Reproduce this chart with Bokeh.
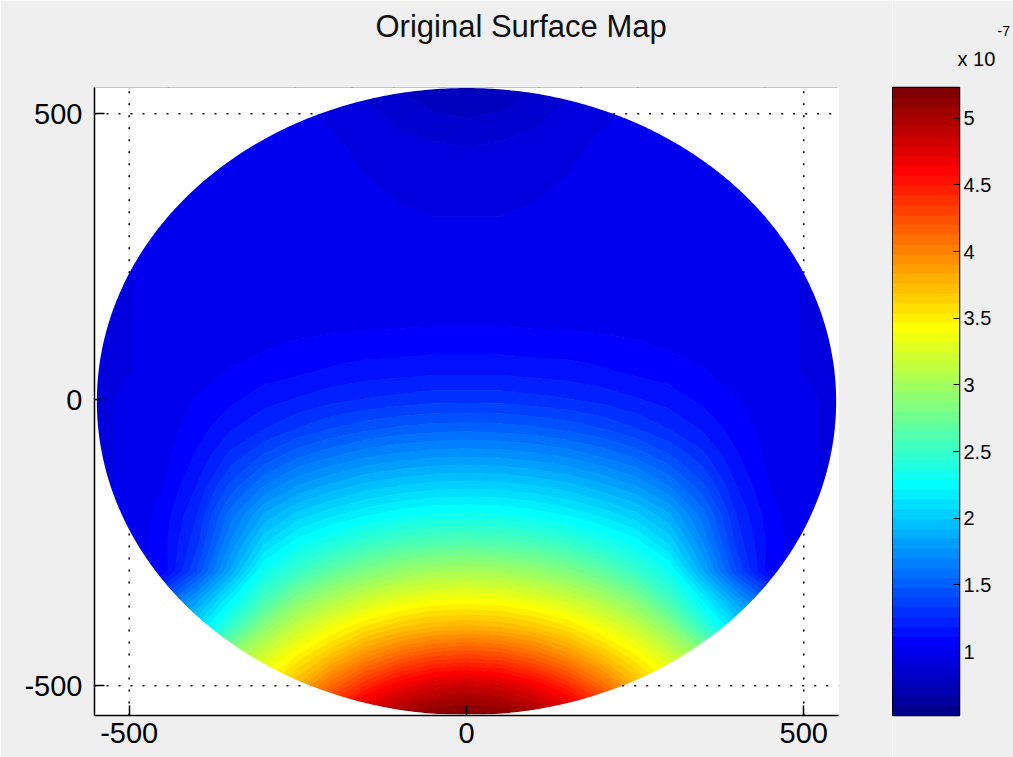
import numpy as np
from bokeh.plotting import figure
from bokeh.layouts import row
from bokeh.models import (FixedTicker, LinearColorMapper, Range1d, Title,
                          CustomJSTickFormatter)
from bokeh.embed import file_html
from bokeh.resources import INLINE

# ---------------- data (surface values in units of 1e-7) ----------------
title_text = "Original Surface Map"
cbar_exponent_text = "x 10"
cbar_power_text = "-7"
# x positions of the sampled columns on the right half (map is mirror-symmetric in x)
x_half = [0, 50, 100, 150, 200, 250, 300, 350, 400, 450, 500, 550]
y_rows = [550, 500, 450, 400, 350, 300, 250, 200, 150, 100, 50, 0,
          -50, -100, -150, -200, -250, -300, -350, -400, -450, -500, -550]
# one row per y (top to bottom), one value per |x| in x_half
surface_half = [
    [0.72, 0.74, 0.80, 0.86, 0.92, 0.96, 0.97, 0.97, 0.97, 0.96, 0.95, 0.95],
    [0.80, 0.82, 0.86, 0.91, 0.95, 0.97, 0.98, 0.98, 0.97, 0.96, 0.95, 0.95],
    [0.88, 0.89, 0.91, 0.94, 0.97, 0.98, 0.98, 0.98, 0.98, 0.97, 0.95, 0.95],
    [0.93, 0.93, 0.94, 0.96, 0.98, 0.98, 0.98, 0.98, 0.98, 0.97, 0.96, 0.95],
    [0.95, 0.95, 0.96, 0.97, 0.98, 0.98, 0.98, 0.98, 0.98, 0.97, 0.96, 0.95],
    [0.97, 0.97, 0.97, 0.98, 0.98, 0.98, 0.98, 0.98, 0.98, 0.98, 0.96, 0.95],
    [0.98, 0.98, 0.98, 0.98, 0.98, 0.98, 0.98, 0.98, 0.98, 0.98, 0.96, 0.95],
    [0.98, 0.98, 0.98, 0.98, 0.98, 0.98, 0.98, 0.98, 0.98, 0.97, 0.96, 0.95],
    [1.01, 1.01, 1.01, 1.00, 1.00, 0.99, 0.99, 0.98, 0.97, 0.97, 0.96, 0.95],
    [1.07, 1.07, 1.06, 1.06, 1.05, 1.04, 1.02, 1.00, 0.98, 0.97, 0.96, 0.95],
    [1.16, 1.16, 1.15, 1.14, 1.12, 1.09, 1.07, 1.04, 0.99, 0.97, 0.96, 0.95],
    [1.30, 1.30, 1.28, 1.26, 1.23, 1.19, 1.15, 1.09, 1.04, 0.99, 0.97, 0.95],
    [1.52, 1.51, 1.49, 1.45, 1.40, 1.33, 1.25, 1.17, 1.07, 1.00, 0.97, 0.95],
    [1.77, 1.76, 1.73, 1.69, 1.62, 1.54, 1.42, 1.28, 1.12, 1.01, 0.97, 0.95],
    [2.03, 2.02, 1.99, 1.94, 1.86, 1.77, 1.62, 1.42, 1.18, 1.03, 0.97, 0.95],
    [2.30, 2.29, 2.25, 2.19, 2.11, 2.01, 1.85, 1.58, 1.25, 1.06, 0.98, 0.95],
    [2.62, 2.60, 2.56, 2.48, 2.37, 2.25, 2.05, 1.70, 1.30, 1.08, 0.98, 0.95],
    [3.02, 3.00, 2.93, 2.83, 2.68, 2.50, 2.30, 1.85, 1.40, 1.05, 0.98, 0.95],
    [3.40, 3.38, 3.31, 3.20, 3.05, 2.85, 2.55, 2.20, 1.80, 1.45, 1.28, 1.20],
    [3.80, 3.77, 3.69, 3.56, 3.38, 3.18, 2.90, 2.50, 2.10, 1.80, 1.62, 1.50],
    [4.32, 4.28, 4.15, 3.96, 3.72, 3.48, 3.23, 2.95, 2.64, 2.37, 2.13, 1.91],
    [4.85, 4.80, 4.65, 4.42, 4.12, 3.78, 3.49, 3.19, 2.86, 2.54, 2.27, 2.03],
    [5.20, 5.16, 5.04, 4.86, 4.52, 4.12, 3.73, 3.40, 3.06, 2.70, 2.39, 2.13],
]
cbar_low, cbar_high = 0.52, 5.23
axis_ticks = [-500, 0, 500]
grid_ticks = [-500, 500]
cbar_ticks = [1, 1.5, 2, 2.5, 3, 3.5, 4, 4.5, 5]
aperture_radius = 548
aperture_center = (0, -3)


# ---------------- MATLAB jet(64) colormap ----------------
def jet(m=64):
    n = int(np.ceil(m / 4))
    u = np.concatenate([np.arange(1, n + 1) / n, np.ones(n - 1), np.arange(n, 0, -1) / n])
    g = int(np.ceil(n / 2)) - (1 if m % 4 == 1 else 0) + np.arange(1, len(u) + 1)
    r = g + n
    b = g - n
    R = np.zeros(m); G = np.zeros(m); B = np.zeros(m)
    for arr, idx in ((R, r), (G, g), (B, b)):
        ok = (idx >= 1) & (idx <= m)
        arr[idx[ok] - 1] = u[ok]
    return ["#%02x%02x%02x" % (int(round(a * 255)), int(round(c * 255)), int(round(d * 255)))
            for a, c, d in zip(R, G, B)]


jet64 = jet(64)
BG = "#efefef"
FONT = "Liberation Sans"

# full symmetric grid (left half mirrored from the right half)
half = np.array(surface_half, dtype=float)
Z_full = np.hstack([half[:, :0:-1], half])
X_full = np.concatenate([-np.array(x_half[:0:-1], dtype=float), np.array(x_half, dtype=float)])
Y_full = np.array(y_rows, dtype=float)
order = np.argsort(Y_full)
Z = Z_full[order]
Yc = Y_full[order]

# ---------------- main surface figure ----------------
p = figure(frame_width=744, frame_height=628,
           x_range=Range1d(-551.5, 551.5), y_range=Range1d(-552, 546),
           min_border_left=94, min_border_right=54, min_border_top=87, min_border_bottom=42,
           output_backend="svg", toolbar_location=None)
p.background_fill_color = "white"
p.border_fill_color = BG
p.outline_line_color = None
p.grid.visible = False

levels = np.linspace(cbar_low, cbar_high, 65)
line_cols = [jet64[min(k, 63)] for k in range(len(levels))]
cr = p.contour(x=X_full, y=Yc, z=Z, levels=levels, fill_color=jet64,
               line_color=line_cols, line_width=1.3)

# white mask outside the circular aperture
cx, cy = aperture_center
theta = np.linspace(0, 2 * np.pi, 721)
hole_x = list(cx + aperture_radius * np.cos(theta))
hole_y = list(cy + aperture_radius * np.sin(theta))
outer_x = [-900, 900, 900, -900]
outer_y = [-900, -900, 900, 900]
p.multi_polygons(xs=[[[outer_x, hole_x]]], ys=[[[outer_y, hole_y]]],
                 fill_color="white", line_color=None)

# dotted grid lines, visible only outside the aperture
xr0, xr1 = p.x_range.start, p.x_range.end
yr0, yr1 = p.y_range.start, p.y_range.end
sx0, sy0, sx1, sy1 = [], [], [], []
for t in grid_ticks:
    h = np.sqrt(max(aperture_radius ** 2 - (t - cx) ** 2, 0))
    sx0 += [t, t]; sx1 += [t, t]
    sy0 += [cy + h, yr0]; sy1 += [yr1, cy - h]
    h = np.sqrt(max(aperture_radius ** 2 - (t - cy) ** 2, 0))
    sy0 += [t, t]; sy1 += [t, t]
    sx0 += [cx + h, xr0]; sx1 += [xr1, cx - h]
p.segment(x0=sx0, y0=sy0, x1=sx1, y1=sy1, line_color="black",
          line_dash="2 10", line_width=1.6)

plain = CustomJSTickFormatter(code="return String(tick);")
for ax in (p.xaxis, p.yaxis):
    ax.ticker = FixedTicker(ticks=axis_ticks)
    ax.formatter = plain
    ax.major_tick_in = 10
    ax.major_tick_out = 0
    ax.minor_tick_in = 0
    ax.minor_tick_out = 0
    ax.axis_line_color = "black"
    ax.axis_line_width = 1.5
    ax.major_tick_line_color = "black"
    ax.major_tick_line_width = 1.5
    ax.major_label_text_font = FONT
    ax.major_label_text_font_size = "29px"
    ax.major_label_text_color = "black"
p.xaxis.major_label_standoff = 7
p.yaxis.major_label_standoff = 12

# title (outermost) with a blank spacer title between it and the frame
p.title.text = title_text
p.title.align = "left"
p.title.offset = 281
p.title.text_font = FONT
p.title.text_font_size = "31px"
p.title.text_font_style = "normal"
p.title.text_color = "#111111"
p.add_layout(Title(text=" ", text_font_size="24px", text_font=FONT), "above")

# ---------------- colour bar figure ----------------
mapper = LinearColorMapper(palette=jet64, low=cbar_low, high=cbar_high)
p2 = figure(frame_width=67, frame_height=628,
            x_range=Range1d(0, 1), y_range=Range1d(cbar_low, cbar_high),
            min_border_left=0, min_border_right=54, min_border_top=87, min_border_bottom=42,
            x_axis_location=None, y_axis_location="right",
            output_backend="svg", toolbar_location=None)
p2.border_fill_color = BG
p2.background_fill_color = BG
p2.grid.visible = False
p2.outline_line_color = "black"
p2.outline_line_width = 1.5
cb_vals = np.linspace(cbar_low, cbar_high, 640).reshape(-1, 1)
p2.image(image=[cb_vals], x=0, y=cbar_low, dw=1, dh=cbar_high - cbar_low, color_mapper=mapper)
ya = p2.yaxis[0]
ya.ticker = FixedTicker(ticks=cbar_ticks)
ya.formatter = plain
ya.major_tick_in = 6
ya.major_tick_out = 0
ya.minor_tick_in = 0
ya.minor_tick_out = 0
ya.axis_line_color = None
ya.major_tick_line_color = "black"
ya.major_label_standoff = 4
ya.major_label_text_font = FONT
ya.major_label_text_font_size = "20px"
ya.major_label_text_color = "black"

# exponent note above the colour bar: tiny spacer (innermost), "x 10", then the power
p2.add_layout(Title(text=" ", text_font_size="1px", text_font=FONT), "above")
note = Title(text=cbar_exponent_text, align="left", offset=65, text_font=FONT,
             text_font_size="20px", text_font_style="normal", text_color="black")
p2.add_layout(note, "above")
p2.title.text = cbar_power_text
p2.title.align = "left"
p2.title.offset = 105
p2.title.text_font = FONT
p2.title.text_font_size = "14px"
p2.title.text_font_style = "normal"
p2.title.text_color = "black"

layout = row(p, p2)
open("out.html", "w").write(file_html(layout, INLINE))
